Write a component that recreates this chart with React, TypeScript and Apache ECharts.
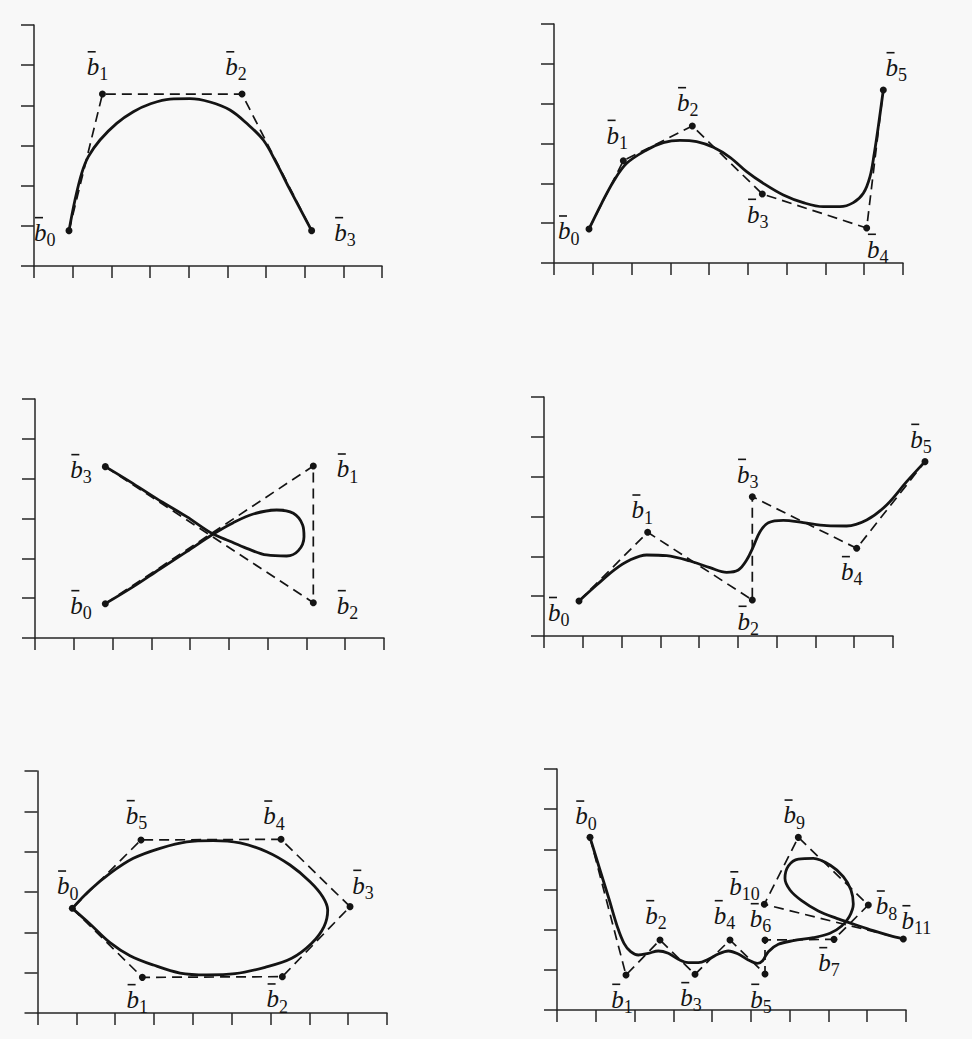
import React, { useEffect, useRef } from 'react';
import * as echarts from 'echarts';

// ---------- Panel 1 (top-left) ----------
const p1Control = [[0.905, 0.88], [1.77, 4.28], [5.38, 4.28], [7.18, 0.88]];
const p1Curve = [
  [0.905, 0.88], [1.06, 1.643], [1.233, 2.307], [1.405, 2.722], [1.707, 3.137], [2.138, 3.552],
  [2.569, 3.842], [3.0, 4.033], [3.517, 4.157], [4.034, 4.166], [4.551, 4.083], [5.068, 3.884],
  [5.5, 3.552], [5.93, 3.137], [6.275, 2.556], [6.603, 1.934], [7.18, 0.88],
];
const p1Names = ['0', '1', '2', '3'];

// ---------- Panel 2 (top-right) ----------
const p2Control = [[0.903, 0.854], [1.788, 2.569], [3.567, 3.44], [5.372, 1.732], [8.063, 0.879], [8.492, 4.343]];
const p2Curve = [
  [0.903, 0.854], [1.229, 1.498], [1.53, 2.042], [1.874, 2.502], [2.39, 2.837], [2.819, 3.021],
  [3.249, 3.08], [3.679, 3.046], [4.109, 2.904], [4.538, 2.653], [4.968, 2.293], [5.398, 2.0],
  [5.914, 1.707], [6.429, 1.515], [6.945, 1.414], [7.375, 1.414], [7.719, 1.515], [7.977, 1.749],
  [8.149, 2.168], [8.26, 2.753], [8.363, 3.423], [8.492, 4.343],
];
const p2Names = ['0', '1', '2', '3', '4', '5'];

// ---------- Panel 3 (middle-left) ----------
const p3Control = [[1.814, 0.862], [7.177, 4.318], [7.177, 0.887], [1.814, 4.302]];
const p3Curve = [
  [1.814, 0.862], [2.536, 1.289], [3.223, 1.732], [3.911, 2.167], [4.556, 2.586], [5.114, 2.896],
  [5.63, 3.113], [6.232, 3.214], [6.662, 3.13], [6.902, 2.837], [6.937, 2.544], [6.791, 2.193],
  [6.49, 2.059], [5.974, 2.084], [5.458, 2.251], [5.028, 2.427], [4.556, 2.628], [3.911, 3.046],
  [3.137, 3.498], [2.45, 3.925], [1.814, 4.302],
];
const p3Names = ['0', '1', '2', '3'];

// ---------- Panel 4 (middle-right) ----------
const p4Control = [[0.903, 0.879], [2.673, 2.603], [5.372, 0.904], [5.372, 3.498], [8.063, 2.201], [9.825, 4.377]];
const p4Curve = [
  [0.903, 0.879], [1.358, 1.28], [1.831, 1.674], [2.218, 1.908], [2.647, 2.034], [3.163, 2.017],
  [3.765, 1.883], [4.281, 1.716], [4.71, 1.599], [5.011, 1.657], [5.226, 1.908], [5.398, 2.243],
  [5.57, 2.619], [5.785, 2.845], [6.171, 2.904], [6.687, 2.845], [7.289, 2.77], [7.805, 2.762],
  [8.321, 2.912], [8.836, 3.289], [9.352, 3.875], [9.825, 4.377],
];
const p4Names = ['0', '1', '2', '3', '4', '5'];

// ---------- Panel 5 (bottom-left) ----------
const p5Control = [[0.897, 2.595], [2.7, 0.884], [6.305, 0.901], [8.048, 2.637], [6.271, 4.306], [2.665, 4.29]];
const p5Curve = [
  [0.897, 2.595], [1.352, 3.05], [1.867, 3.463], [2.468, 3.835], [3.155, 4.083], [3.842, 4.245],
  [4.528, 4.275], [5.215, 4.215], [5.902, 4.0], [6.503, 3.67], [7.018, 3.256], [7.344, 2.885],
  [7.473, 2.554], [7.378, 2.141], [7.061, 1.727], [6.546, 1.355], [5.859, 1.132], [5.086, 0.975],
  [4.357, 0.945], [3.67, 0.99], [2.983, 1.19], [2.382, 1.422], [1.867, 1.744], [1.352, 2.207],
  [0.897, 2.595],
];
const p5Names = ['0', '1', '2', '3', '4', '5'];

// ---------- Panel 6 (bottom-right) ----------
const p6Control = [
  [0.851, 4.298], [1.779, 0.871], [2.656, 1.743], [3.559, 0.888], [4.461, 1.743], [5.364, 0.896],
  [5.364, 1.743], [7.143, 1.759], [8.028, 2.614], [6.223, 4.298], [5.346, 2.631], [8.931, 1.767],
];
const p6Curve = [
  [0.851, 4.298], [1.109, 3.485], [1.349, 2.738], [1.556, 2.074], [1.728, 1.66], [1.9, 1.452],
  [2.097, 1.369], [2.355, 1.411], [2.613, 1.469], [2.871, 1.411], [3.129, 1.261], [3.387, 1.178],
  [3.645, 1.178], [3.902, 1.261], [4.16, 1.394], [4.418, 1.469], [4.676, 1.394], [4.934, 1.245],
  [5.166, 1.162], [5.303, 1.228], [5.45, 1.452], [5.708, 1.635], [6.094, 1.726], [6.61, 1.801],
  [7.04, 1.909], [7.341, 2.091], [7.538, 2.323], [7.641, 2.639], [7.581, 2.987], [7.383, 3.319],
  [7.04, 3.61], [6.61, 3.776], [6.223, 3.759], [5.965, 3.585], [5.879, 3.278], [6.008, 2.987],
  [6.309, 2.722], [6.739, 2.465], [7.212, 2.282], [7.641, 2.141], [8.157, 1.975], [8.587, 1.85],
  [8.931, 1.767],
];
const p6Names = ['0', '1', '2', '3', '4', '5', '6', '7', '8', '9', '10', '11'];

// Axis tick ranges (shared by every panel)
const xTickMax = 9;
const yTickMax = 6;

// ---------- layout / styling ----------
type Place = [string, number, number, number]; // position, distance, dx, dy

const p1Place: Place[] = [['left', 10, 0, 1], ['top', 10, -5, 0], ['top', 10, -6, 0], ['right', 19, 0, 1]];
const p2Place: Place[] = [['left', 6, 0, 1], ['top', 8, -6, 0], ['top', 6, -4.5, 0], ['bottom', 1, -4.5, 0], ['bottom', 2, 11, 0], ['top', 5, 13, 0]];
const p3Place: Place[] = [['left', 10, 0, 1], ['right', 20, 0, 2], ['right', 20, 0, 2], ['left', 10, 0, 2]];
const p4Place: Place[] = [['left', 6, 0, 10.5], ['top', 5, -5.5, 0], ['bottom', 2, -4, 0], ['top', 5, -4.5, 0], ['bottom', 4, -5, 0], ['top', 5, -4, 0]];
const p5Place: Place[] = [['top', 5, -4.5, 0], ['bottom', 3, -5, 0], ['bottom', 3, -5, 0], ['top', 4, 13, 0], ['top', 6, -7, 0], ['top', 7, -4.5, 0]];
const p6Place: Place[] = [
  ['top', 4, -4, 0], ['bottom', 5, -4, 0], ['top', 7, -4, 0], ['bottom', 4, -4, 0], ['top', 7, -5.5, 0], ['bottom', 6, -4, 0],
  ['top', 4, -4.5, 0], ['bottom', 4, -5, 0], ['right', 4, 0, 0], ['top', 5, -4, 0], ['left', 1, 0, -18.5], ['top', 1, 13, 0],
];

const panels = [
  { control: p1Control, curve: p1Curve, names: p1Names, place: p1Place, closed: false, dataXMax: 9, grid: { left: 34, top: 25, width: 348, height: 241 } },
  { control: p2Control, curve: p2Curve, names: p2Names, place: p2Place, closed: false, dataXMax: 9, grid: { left: 554, top: 24, width: 349, height: 239 } },
  { control: p3Control, curve: p3Curve, names: p3Names, place: p3Place, closed: false, dataXMax: 9, grid: { left: 35, top: 399, width: 349, height: 239 } },
  { control: p4Control, curve: p4Curve, names: p4Names, place: p4Place, closed: false, dataXMax: 10, grid: { left: 544, top: 397, width: 349, height: 239 } },
  { control: p5Control, curve: p5Curve, names: p5Names, place: p5Place, closed: true, dataXMax: 9, grid: { left: 37.5, top: 771, width: 349.5, height: 242 } },
  { control: p6Control, curve: p6Curve, names: p6Names, place: p6Place, closed: false, dataXMax: 9, grid: { left: 557, top: 769, width: 349, height: 241 } },
];

const INK = '#141414';
const AXIS = '#262626';
const SERIF = "'Liberation Serif', 'DejaVu Serif', serif";

const rich = {
  sp: { width: 1, height: 1.6, lineHeight: 1.6, fontSize: 1, align: 'left' },
  bar: { width: 8, height: 1.6, lineHeight: 1.6, fontSize: 1, backgroundColor: INK, align: 'left' },
  bb: { fontFamily: SERIF, fontStyle: 'italic', fontSize: 25, lineHeight: 28, color: INK, align: 'left' },
  ss: { fontFamily: SERIF, fontStyle: 'normal', fontSize: 18, lineHeight: 12, padding: [15.5, 0, 0, 0], color: INK, align: 'left' },
};

function buildOption() {
  const grid: any[] = [];
  const xAxis: any[] = [];
  const yAxis: any[] = [];
  const series: any[] = [];
  panels.forEach((p, i) => {
    // visible axes grid
    grid.push({ ...p.grid, containLabel: false });
    // data grid (same origin and scale; may extend beyond the drawn axis)
    grid.push({ ...p.grid, width: (p.grid.width * p.dataXMax) / xTickMax, containLabel: false });
    const axisCommon = {
      type: 'value',
      min: 0,
      interval: 1,
      axisLine: { show: true, onZero: false, lineStyle: { color: AXIS, width: 1.5 } },
      axisTick: { show: true, inside: false, lineStyle: { color: AXIS, width: 1.5 } },
      axisLabel: { show: false },
      splitLine: { show: false },
    };
    xAxis.push({ ...axisCommon, gridIndex: 2 * i, max: xTickMax, axisTick: { ...axisCommon.axisTick, length: 12 } });
    yAxis.push({ ...axisCommon, gridIndex: 2 * i, max: yTickMax, axisTick: { ...axisCommon.axisTick, length: 13 } });
    xAxis.push({ type: 'value', gridIndex: 2 * i + 1, min: 0, max: p.dataXMax, show: false });
    yAxis.push({ type: 'value', gridIndex: 2 * i + 1, min: 0, max: yTickMax, show: false });
    const ax = 2 * i + 1;

    const poly = p.closed ? [...p.control, p.control[0]] : p.control;
    series.push({
      type: 'line', xAxisIndex: ax, yAxisIndex: ax, data: poly, symbol: 'none', silent: true, clip: false, z: 1,
      lineStyle: { type: [10, 6], width: 1.7, color: INK },
    });
    series.push({
      type: 'line', xAxisIndex: ax, yAxisIndex: ax, data: p.curve, symbol: 'none', silent: true, clip: false, z: 2,
      smooth: 0.35,
      lineStyle: { width: 2.8, color: INK },
    });
    series.push({
      type: 'scatter', xAxisIndex: ax, yAxisIndex: ax, clip: false, z: 3, silent: true,
      symbol: 'circle', symbolSize: 7, itemStyle: { color: INK, opacity: 1 },
      data: p.control.map((c, j) => ({
        value: c,
        name: p.names[j],
        label: { position: p.place[j][0], distance: p.place[j][1], offset: [p.place[j][2], p.place[j][3]] },
      })),
      label: {
        show: true,
        color: INK,
        fontFamily: SERIF,
        formatter: (d: any) => `{sp| }{bar| }\n{bb|b}{ss|${d.name}}`,
        rich,
      },
    });
  });
  return {
    animation: false,
    backgroundColor: '#f8f8f8',
    grid, xAxis, yAxis, series,
  };
}

export default function App() {
  const ref = useRef<HTMLDivElement>(null);
  useEffect(() => {
    if (!ref.current) return;
    const chart = echarts.init(ref.current, undefined, { renderer: 'svg' });
    chart.setOption(buildOption() as any);
    return () => chart.dispose();
  }, []);
  return <div ref={ref} style={{ position: 'absolute', left: 0, top: 0, width: 972, height: 1039 }} />;
}
